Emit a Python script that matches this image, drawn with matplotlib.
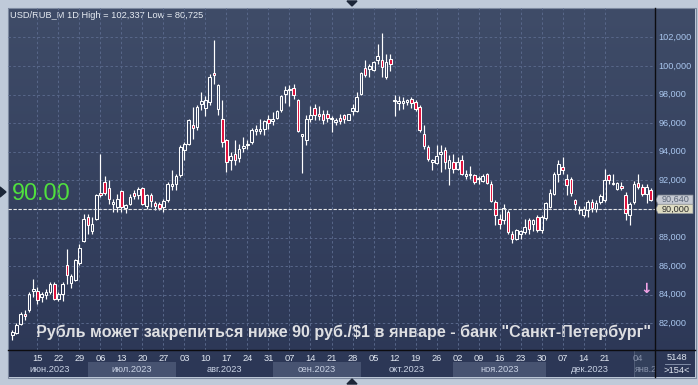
import numpy as np
import matplotlib.pyplot as plt
from matplotlib.colors import LinearSegmentedColormap
from matplotlib.patches import Rectangle, Polygon

plt.rcParams['font.family'] = ['Liberation Sans', 'DejaVu Sans']

# USD/RUB_M daily candles, 06.06.2023 - 09.01.2024
opens = [81.15, 81.35, 81.98, 82.68, 82.91, 84.27, 84.24, 83.85, 83.96, 84.2,
         84.78, 83.73, 84.08, 86.06, 84.83, 85.06, 86.22, 87.76, 89.44, 88.44,
         89.32, 91.12, 91.89, 91.49, 90.37, 90.14, 91.26, 90.09, 90.37, 91.12,
         90.96, 91.45, 90.21, 90.96, 90.44, 90.33, 90.14, 90.61, 91.63, 91.77,
         92.35, 94.1, 94.57, 95.85, 95.73, 97.37, 97.09, 97.48, 99.51, 97.02,
         96.32, 94.8, 93.45, 93.87, 93.59, 94.24, 94.45, 94.69, 95.45, 95.43,
         95.57, 96.32, 96.15, 96.39, 96.9, 98.02, 98.3, 98.48, 97.6, 95.13,
         94.85, 96.32, 97.09, 96.67, 96.62, 96.67, 96.29, 96.08, 96.39, 96.55,
         96.25, 96.85, 96.85, 98.07, 99.88, 99.81, 99.74, 100.44, 100.4, 99.23,
         100.51, 97.55, 97.44, 97.41, 97.51, 97.67, 97.51, 97.13, 95.22, 94.34,
         93.29, 93.22, 93.87, 94.15, 92.89, 93.29, 92.82, 93.4, 92.31, 92.35,
         92.35, 92.07, 91.96, 92.47, 91.72, 90.49, 89.32, 89.21, 89.79, 88.28,
         87.93, 88.23, 88.39, 89.21, 88.93, 89.44, 88.51, 89.39, 90.14, 91.07,
         92.42, 92.94, 92.12, 92.07, 90.65, 89.91, 89.56, 89.91, 90.49, 90.02,
         90.49, 90.65, 92.35, 91.72, 91.42, 91.61, 90.96, 89.56, 90.49, 91.82,
         91.54, 91.07, 91.31]
highs = [81.55, 82.0, 82.8, 82.91, 84.2, 85.13, 84.55, 84.2, 84.43, 84.9,
         84.9, 84.2, 84.9, 87.23, 85.48, 86.53, 87.58, 89.67, 89.67, 89.44,
         91.07, 93.87, 92.28, 92.0, 90.72, 91.07, 91.35, 90.37, 91.03, 91.31,
         91.54, 91.54, 91.07, 91.14, 90.54, 90.49, 90.72, 91.89, 92.7, 92.47,
         94.45, 94.69, 96.32, 97.13, 97.25, 98.18, 97.88, 99.46, 101.84, 98.76,
         97.6, 94.92, 93.99, 94.8, 94.57, 95.03, 94.8, 95.66, 95.85, 96.32,
         96.25, 96.55, 96.78, 96.95, 97.95, 98.6, 98.65, 98.72, 97.67, 95.27,
         96.55, 97.18, 97.32, 97.18, 96.9, 96.95, 96.48, 96.39, 96.67, 96.62,
         96.67, 97.37, 98.18, 99.58, 100.4, 100.16, 100.35, 101.56, 102.34, 100.86,
         100.86, 97.95, 97.88, 97.83, 97.67, 97.83, 97.65, 97.25, 95.85, 94.45,
         93.52, 94.45, 94.45, 94.34, 93.75, 93.82, 93.64, 93.75, 92.7, 92.98,
         92.47, 92.31, 92.42, 92.52, 91.96, 90.65, 89.63, 90.33, 89.91, 88.44,
         88.62, 88.55, 89.32, 89.39, 89.32, 89.56, 89.56, 90.49, 91.42, 92.59,
         93.4, 93.64, 92.47, 92.24, 90.72, 90.19, 90.19, 90.61, 90.68, 90.61,
         91.07, 92.82, 92.47, 92.47, 91.89, 91.89, 91.19, 90.49, 91.96, 92.47,
         91.72, 91.72, 91.49]
lows = [80.8, 81.28, 81.86, 82.21, 82.8, 83.85, 83.33, 83.5, 83.73, 84.08,
        83.66, 83.57, 83.57, 84.78, 84.5, 84.97, 86.11, 87.69, 88.28, 88.28,
        89.21, 90.84, 90.96, 90.37, 89.79, 89.79, 89.79, 89.72, 90.26, 90.72,
        90.72, 90.26, 90.02, 90.14, 89.91, 89.91, 89.79, 90.49, 91.31, 91.31,
        92.24, 93.4, 94.45, 94.92, 95.5, 96.9, 96.48, 97.25, 98.76, 96.55,
        94.34, 92.59, 92.7, 93.05, 93.29, 93.99, 94.22, 94.57, 95.15, 95.27,
        95.15, 95.62, 95.85, 96.32, 96.78, 97.41, 97.18, 97.72, 95.38, 92.52,
        94.45, 96.08, 96.25, 96.2, 95.92, 96.08, 95.38, 95.85, 95.97, 96.01,
        96.2, 96.55, 96.78, 97.95, 99.23, 99.23, 99.65, 100.16, 99.23, 99.11,
        99.65, 96.48, 96.95, 97.02, 97.25, 97.09, 96.85, 95.38, 94.22, 93.36,
        92.7, 93.17, 92.59, 92.82, 91.65, 92.52, 92.7, 92.35, 92.12, 92.12,
        91.72, 91.77, 91.89, 91.77, 90.49, 88.86, 88.62, 88.97, 88.28, 87.62,
        87.81, 87.93, 88.28, 88.23, 88.46, 88.39, 88.35, 89.25, 90.07, 90.96,
        91.89, 92.47, 90.96, 90.91, 89.91, 89.67, 89.44, 89.44, 89.79, 89.79,
        90.37, 90.49, 91.77, 91.65, 91.35, 91.35, 89.21, 88.86, 90.37, 91.42,
        90.89, 90.42, 90.56]
closes = [81.4, 81.9, 82.68, 82.49, 84.08, 84.41, 83.61, 84.03, 84.17, 84.73,
          83.73, 84.08, 84.78, 85.36, 85.29, 86.41, 87.3, 89.32, 88.86, 88.93,
          90.96, 90.96, 91.12, 90.72, 90.47, 90.72, 90.14, 90.26, 90.84, 90.89,
          91.38, 90.37, 91.0, 90.54, 90.21, 90.09, 90.56, 91.72, 91.77, 92.31,
          94.34, 94.57, 96.2, 95.69, 97.13, 97.53, 97.65, 99.23, 99.35, 98.65,
          94.69, 93.29, 93.68, 93.45, 94.22, 94.38, 94.57, 95.55, 95.62, 95.57,
          96.15, 96.04, 96.32, 96.85, 97.9, 98.3, 98.41, 97.99, 95.45, 95.22,
          96.32, 96.55, 96.55, 96.48, 96.25, 96.39, 96.39, 96.2, 96.15, 96.32,
          96.62, 97.06, 97.83, 99.51, 99.35, 99.98, 100.28, 100.68, 99.93, 100.28,
          100.16, 97.65, 97.53, 97.53, 97.6, 97.44, 97.02, 95.5, 94.38, 93.52,
          93.4, 93.68, 93.99, 93.29, 93.4, 92.82, 93.29, 92.47, 92.42, 92.47,
          91.89, 92.17, 92.28, 91.84, 90.56, 89.56, 88.97, 90.07, 88.39, 87.93,
          88.51, 88.44, 88.74, 88.62, 89.21, 88.51, 89.44, 90.42, 91.12, 92.47,
          93.17, 92.7, 91.7, 91.12, 90.33, 90.02, 90.02, 90.49, 90.07, 90.42,
          90.91, 92.05, 92.0, 91.82, 91.82, 91.49, 89.72, 90.37, 91.77, 91.54,
          91.03, 91.54, 90.65]

# x axis: weekly labels (Thursdays) and months
week_labels = ['15', '22', '29', '06', '13', '20', '27', '03', '10', '17', '24', '31',
               '07', '14', '21', '28', '05', '12', '19', '26', '02', '09', '16', '23',
               '30', '07', '14', '21']
week_first = 6          # bar number of 15.06
jan_label = '04'
jan_bar = 149
months = ['июн.2023', 'июл.2023', 'авг.2023', 'сен.2023', 'окт.2023', 'ноя.2023', 'дек.2023']
month_starts = [-1, 18, 39, 62, 83, 105, 127, 148]

y_ticks = [82, 84, 86, 88, 92, 94, 96, 98, 100, 102]
level = 90.0
last_price = 90.64
title = 'USD/RUB_M 1D High = 102,337 Low = 80,725'
caption = 'Рубль может закрепиться ниже 90 руб./$1 в январе - банк "Санкт-Петербург"'

W, H = 698, 385
fig = plt.figure(figsize=(W / 100, H / 100), dpi=100)
fig.patch.set_facecolor('#bfcad9')


def frac(x0, y0, x1, y1):
    # pixel box (top-left origin) -> figure fraction rect
    return [x0 / W, 1 - y1 / H, (x1 - x0) / W, (y1 - y0) / H]


# background layer in pixel coordinates
bg = fig.add_axes([0, 0, 1, 1])
bg.set_xlim(0, W)
bg.set_ylim(H, 0)
bg.axis('off')
cmap = LinearSegmentedColormap.from_list('bg', ['#3f4c68', '#2c3756'])
bg.imshow(np.linspace(0, 1, 256).reshape(-1, 1), cmap=cmap, aspect='auto',
          extent=[8, 695, 377, 8], zorder=0)
bg.add_patch(Rectangle((7.5, 7.5), 688, 370, fill=False, ec='#7d8aa0', lw=0.8, zorder=1))
bg.add_patch(Polygon([[0, 187], [6, 192], [0, 197]], color='#1c2638', zorder=2))
bg.add_patch(Polygon([[347, 1], [357, 1], [352, 6]], color='#1c2638', zorder=2))
bg.add_patch(Polygon([[347, 384], [357, 384], [352, 379]], color='#1c2638', zorder=2))

# main chart
ax = fig.add_axes(frac(8, 8, 655, 350))
ax.set_facecolor('none')
for s in ax.spines.values():
    s.set_visible(False)
ax.set_xlim(-1.0, 153.0)
ax.set_ylim(80.13, 104.06)

o, h, l, c = map(np.array, (opens, highs, lows, closes))
idx = np.arange(len(o))
top = np.maximum(o, c)
bot = np.minimum(o, c)
up = c >= o
ax.vlines(idx, top, h, color='white', lw=0.85, zorder=3)
ax.vlines(idx, l, bot, color='white', lw=0.85, zorder=3)
ax.bar(idx, np.maximum(top - bot, 0.1), bottom=bot, width=0.62,
       color=['none' if u else '#e0103c' for u in up],
       edgecolor='white', linewidth=0.75, zorder=4)

week_pos = [week_first + 5 * k for k in range(len(week_labels))]
ax.set_xticks(week_pos)
ax.set_yticks(np.arange(82, 104, 2))
ax.tick_params(length=0, labelbottom=False, labelleft=False)
ax.grid(True, color='#58678a', lw=0.7, ls=(0, (2.5, 2.5)))
ax.axhline(level, color='#e6e6e6', lw=0.8, ls=(0, (3, 1.5)), zorder=5)

# right price scale
rax = fig.add_axes(frac(655, 8, 695, 350), sharey=ax)
rax.set_facecolor('none')
rax.axis('off')
rax.set_xlim(0, 1)
for t in y_ticks:
    rax.text(0.08, t, f'{t},000', color='#a9c6ee', fontsize=6.6, va='center', ha='left')
for p, fc, tc, z in [(last_price, '#c5c9d2', '#5b6577', 6), (level, '#dedcc2', '#2a2a2a', 7)]:
    rax.add_patch(Polygon([[0.02, p], [0.08, p + 0.33], [0.95, p + 0.33],
                           [0.95, p - 0.33], [0.08, p - 0.33]],
                          fc=fc, ec='#8a8f98', lw=0.5, zorder=z, clip_on=False))
    rax.text(0.52, p, f'{p:,.3f}'.replace('.', ','), color=tc, fontsize=6.6,
             ha='center', va='center', zorder=z + 0.5)

# date scale
bax = fig.add_axes(frac(8, 350, 655, 377), sharex=ax)
bax.set_facecolor('none')
bax.axis('off')
bax.set_ylim(0, 1)
for k in range(1, len(months), 2):
    bax.axvspan(month_starts[k], month_starts[k + 1], ymin=0, ymax=0.55,
                color='#475371', lw=0)
bax.axvspan(month_starts[-1], 153.0, color='#33405c', ec='#56627c', lw=0.6)
for pos, lab in zip(week_pos, week_labels):
    bax.text(pos, 0.69, lab, color='#e2e8f2', fontsize=6.7, ha='center', va='center')
bax.text(jan_bar, 0.69, jan_label, color='#8792aa', fontsize=6.7, ha='center', va='center')
for k, m in enumerate(months):
    mid = (max(month_starts[k], 0) + month_starts[k + 1]) / 2
    bax.text(mid, 0.285, m, color='#c9d2e4', fontsize=6.7, ha='center', va='center')
bax.text(month_starts[-1] + 0.3, 0.285, 'янв.20', color='#8792aa', fontsize=6.5,
         ha='left', va='center', clip_on=True)

# separators
fig.add_artist(plt.Line2D([655 / W, 655 / W], [1 - 8 / H, 1 - 377 / H], color='#0c0c10', lw=1.0))
fig.add_artist(plt.Line2D([8 / W, 695 / W], [1 - 350 / H, 1 - 350 / H], color='#0c0c10', lw=1.0))

# corner box
bg.text(677, 357.5, '5148', color='#dfe5ef', fontsize=6.7, ha='center', va='center', zorder=3)
bg.plot([665, 690], [364, 364], color='#8d9ab3', lw=0.6, zorder=3)
bg.text(677, 370.5, '>154<', color='#dfe5ef', fontsize=6.7, ha='center', va='center', zorder=3)

# texts on chart
bg.text(10, 18.5, title, color='#e6ebf2', fontsize=6.7, ha='left', va='baseline', zorder=3)
bg.text(12, 200, f'{level:.2f}', color='#50e03e', fontsize=16.8, ha='left', va='baseline', zorder=3)
bg.text(36, 336.5, caption, color='#dedfe2', fontsize=11.6, fontweight='bold',
        ha='left', va='baseline', zorder=3)
bg.text(646.5, 289, '↓', color='#f2a2e6', fontsize=10, fontweight='bold',
        family='DejaVu Sans', ha='center', va='center', zorder=3)

fig.savefig('out.png', dpi=100, facecolor=fig.get_facecolor())
